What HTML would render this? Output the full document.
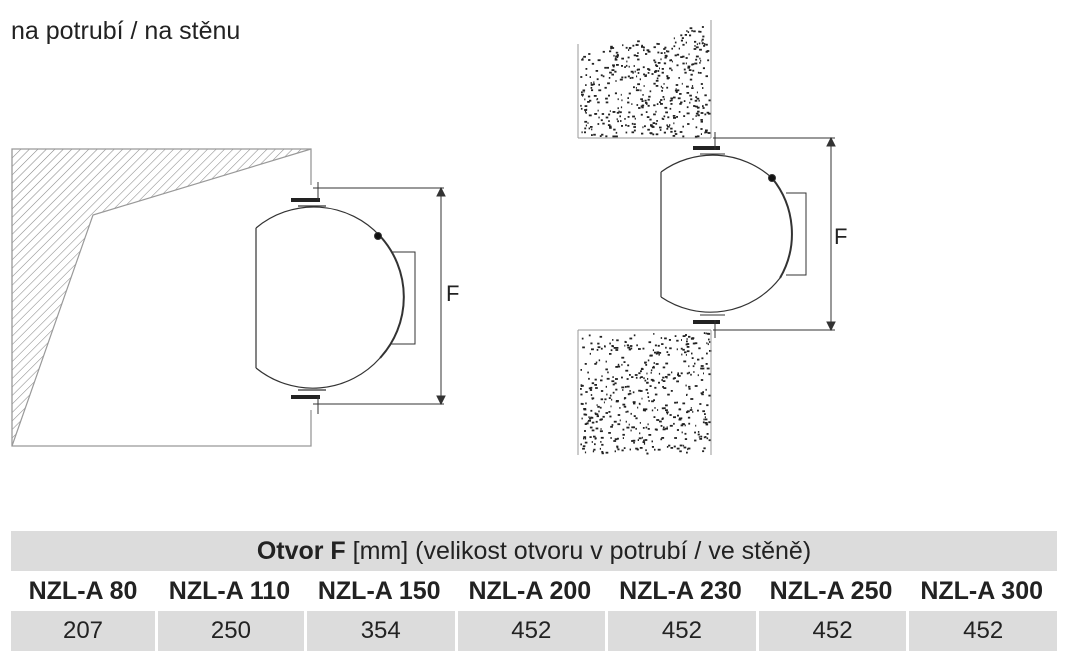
<!DOCTYPE html>
<html><head><meta charset="utf-8"><style>
body{margin:0;background:#fff;width:1074px;height:660px;overflow:hidden;position:relative;font-family:"Liberation Sans",sans-serif;}
.t{position:absolute;left:11px;top:17px;font-size:25px;color:#222;}
table{position:absolute;left:11px;top:531px;width:1046px;border-collapse:separate;border-spacing:0;}
td{height:40px;text-align:center;font-size:25px;color:#222;padding:0;}
.h td{background:#dcdcdc;}
.m td{font-weight:bold;background:#fff;font-size:25px;}
.v td{background:#dcdcdc;border-left:3px solid #fff;font-size:24px;}
.v td:first-child{border-left:none;}
</style></head><body>
<div class="t">na potrubí / na stěnu</div>
<svg width="1074" height="525" style="position:absolute;left:0;top:0">
<defs>
<pattern id="h" width="6" height="6" patternUnits="userSpaceOnUse" patternTransform="rotate(45)"><line x1="0" y1="0" x2="0" y2="6" stroke="#888" stroke-width="1.1"/></pattern>
</defs>
<polygon points="12,149 311,149 93,215 12,446" fill="url(#h)"/>
<polyline points="311,149 93,215 12,446" fill="none" stroke="#999" stroke-width="1.2"/>
<polyline points="311,185 311,149 12,149 12,446 311,446 311,410" fill="none" stroke="#999" stroke-width="1.3"/>
<g fill="none" stroke="#333">
<path d="M256,228 A90,90 0 0 1 380,236" stroke-width="1.2"/>
<path d="M380,236 A90,90 0 0 1 380,358" stroke-width="2"/>
<path d="M380,358 A90,90 0 0 1 256,368" stroke-width="1.2"/>
<line x1="256" y1="228" x2="256" y2="368" stroke-width="1.2"/>
<polyline points="391,252 415,252 415,344 391,344" stroke-width="1"/>
<circle cx="378" cy="236" r="3.5" fill="#111"/>
<line x1="291" y1="200" x2="320" y2="200" stroke="#222" stroke-width="4"/>
<line x1="291" y1="397" x2="320" y2="397" stroke="#222" stroke-width="4"/>
<path d="M298,206 h28 M298,390 h28" stroke-width="1.2"/>
<path d="M318,182 v18 M313,188 h131 M313,404 h131 M318,396 v18"/>
<line x1="441" y1="192" x2="441" y2="400"/>
<polygon points="441,188 437,196 445,196" fill="#333"/>
<polygon points="441,404 437,396 445,396" fill="#333"/>
</g>
<text x="446" y="301" font-size="22" fill="#222" font-family="Liberation Sans">F</text>
<g id="dots" fill="#222"></g>
<line x1="578" y1="44" x2="578" y2="138" stroke="#999"/>
<line x1="578" y1="138" x2="711" y2="138" stroke="#999"/>
<line x1="711" y1="20" x2="711" y2="138" stroke="#999"/>
<line x1="578" y1="330" x2="578" y2="455" stroke="#999"/>
<line x1="578" y1="330" x2="711" y2="330" stroke="#999"/>
<line x1="711" y1="330" x2="711" y2="455" stroke="#999"/>
<g fill="none" stroke="#333">
<path d="M661,172 A88,88 0 0 1 772,178" stroke-width="1.2"/>
<path d="M772,178 A88,88 0 0 1 780,278" stroke-width="2"/>
<path d="M780,278 A88,88 0 0 1 661,297" stroke-width="1.2"/>
<line x1="661" y1="172" x2="661" y2="297" stroke-width="1.2"/>
<polyline points="786,193 806,193 806,275 786,275" stroke-width="1"/>
<circle cx="772" cy="178" r="3.5" fill="#111"/>
<line x1="693" y1="148" x2="720" y2="148" stroke="#222" stroke-width="4"/>
<line x1="693" y1="322" x2="720" y2="322" stroke="#222" stroke-width="4"/>
<path d="M700,154 h25 M700,315 h25"/>
<path d="M715,132 v18 M713,138 h122 M713,330 h122 M715,320 v18"/>
<line x1="831" y1="142" x2="831" y2="326"/>
<polygon points="831,138 827,146 835,146" fill="#333"/>
<polygon points="831,330 827,322 835,322" fill="#333"/>
</g>
<text x="834" y="244" font-size="22" fill="#222" font-family="Liberation Sans">F</text>
</svg>
<table>
<tr class="h"><td colspan="7"><b>Otvor F</b> [mm] (velikost otvoru v potrubí / ve stěně)</td></tr>
<tr class="m"><td style="width:144px">NZL-A 80</td><td>NZL-A 110</td><td>NZL-A 150</td><td>NZL-A 200</td><td>NZL-A 230</td><td>NZL-A 250</td><td>NZL-A 300</td></tr>
<tr class="v"><td>207</td><td>250</td><td>354</td><td>452</td><td>452</td><td>452</td><td>452</td></tr>
</table>
<script>
var g=document.getElementById('dots'),s=12345,h='';
function r(){s=(s*1103515245+12345)%2147483648;return s/2147483648;}
function blk(x0,y0,x1,y1,n,slope){for(var i=0;i<n;i++){var x=x0+r()*(x1-x0),y=y0+r()*(y1-y0);if(slope&&y<y0+(x1-x)*0.24)continue;var w=1+r()*2;h+='<rect x="'+x.toFixed(1)+'" y="'+y.toFixed(1)+'" width="'+w.toFixed(1)+'" height="1.8"/>';}}
blk(580,22,709,136,520,true);blk(580,332,709,453,480,false);
g.innerHTML=h;
</script>
</body></html>
